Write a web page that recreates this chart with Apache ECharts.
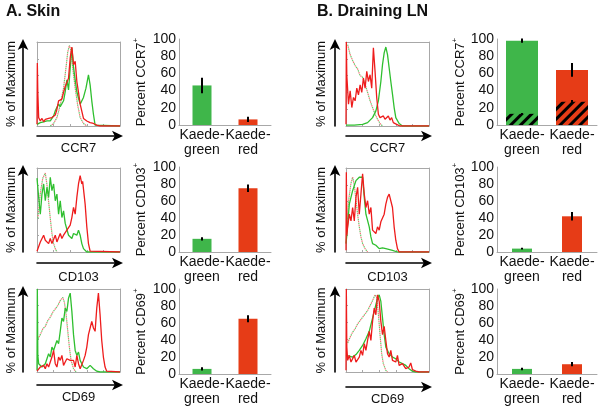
<!DOCTYPE html>
<html>
<head>
<meta charset="utf-8">
<script src="https://cdn.jsdelivr.net/npm/echarts@6/dist/echarts.min.js"></script>
<style>
html, body { margin: 0; padding: 0; background: #fff; }
#main { width: 600px; height: 407px; }
</style>
</head>
<body>
<div id="main"></div>
<script>
//柱状图数据
var barCats = ['Kaede-\ngreen', 'Kaede-\nred'];
var skinCCR7 = [46, 6.5];
var skinCCR7Err = [9, 3];
var skinCD103 = [15.5, 75];
var skinCD103Err = [2, 4.5];
var skinCD69 = [6, 65];
var skinCD69Err = [2, 4];
var lnCCR7 = [98, 64];
var lnCCR7Err = [2.5, 8];
var lnCCR7Hatch = [13, 27];
var lnCCR7HatchErr = [1, 2];
var lnCD103 = [4, 42];
var lnCD103Err = [1, 5];
var lnCD69 = [6, 11.5];
var lnCD69Err = [1.5, 2.5];

//直方图曲线 [荧光位置, % of Maximum]
var skinCCR7Red = [[0,2],[0.4,75],[1,40],[2,10],[4,6],[6,9],[8,5],[10,8],[12,6],[14,9],[16,7],[18,10],[20,12],[22,13],[24,20],[26,30],[28,28],[30,32],[32,40],[34,47],[36,48],[38,57],[40,81],[42,94],[44,73],[46,77],[48,53],[50,40],[52,26],[56,9],[60,6],[64,4],[68,3],[72,1],[76,0],[100,0]];
var skinCCR7Green = [[0,2],[4,4],[6,2],[8,5],[10,3],[12,6],[14,4],[16,6],[18,8],[20,12],[22,18],[26,26],[28,23],[30,22],[32,30],[34,41],[36,55],[38,43],[40,69],[42,93],[44,70],[46,55],[48,41],[50,33],[52,26],[54,27],[56,34],[59,45],[62,61],[64,49],[66,30],[68,14],[70,1],[72,0],[100,0]];
var skinCCR7Iso = [[16,0],[20,3],[24,10],[28,25],[32,45],[35,70],[37,88],[39,96],[41,90],[43,70],[46,45],[49,25],[52,10],[56,3],[60,0]];

var skinCD103Red = [[0,1],[4,12],[8,20],[10,14],[14,10],[16,16],[18,10],[22,20],[24,12],[28,22],[30,16],[32,20],[36,26],[40,32],[42,41],[44,53],[46,45],[48,65],[50,81],[52,91],[54,81],[55,84],[58,57],[60,30],[62,10],[64,1],[66,0],[100,0]];
var skinCD103Green = [[0,88],[2,65],[4,45],[6,69],[8,81],[10,61],[12,77],[14,65],[16,89],[18,73],[20,81],[22,61],[24,69],[26,45],[28,61],[30,41],[32,49],[34,34],[36,36],[38,20],[40,22],[42,16],[44,22],[46,24],[48,20],[50,26],[52,20],[54,10],[56,4],[60,0],[100,0]];
var skinCD103Iso = [[1,40],[4,70],[7,88],[10,94],[12,80],[14,60],[16,40],[18,22],[20,10],[22,4],[24,0]];

var skinCD69Red = [[0,1],[4,6],[8,8],[10,4],[12,10],[14,6],[16,8],[18,18],[20,26],[22,10],[24,6],[26,18],[28,14],[30,20],[32,8],[34,12],[36,16],[38,18],[40,14],[42,12],[44,14],[46,6],[48,20],[50,10],[52,4],[54,6],[56,14],[58,20],[60,30],[62,45],[64,53],[66,61],[68,53],[70,49],[72,77],[74,95],[76,69],[78,38],[80,18],[82,6],[84,1],[86,0],[100,0]];
var skinCD69Green = [[0,2],[0.4,100],[1,20],[2,10],[6,6],[10,10],[14,22],[16,18],[18,30],[20,26],[22,32],[24,38],[26,34],[28,49],[30,65],[32,61],[34,77],[36,73],[38,89],[40,95],[42,73],[44,45],[46,26],[48,20],[50,24],[52,14],[54,10],[56,6],[60,4],[64,8],[68,4],[72,1],[76,0],[100,0]];
var skinCD69Iso = [[1,40],[4,45],[7,52],[10,55],[13,62],[16,66],[19,72],[22,76],[25,80],[28,86],[31,90],[33,84],[35,70],[37,50],[39,30],[41,14],[44,4],[47,0]];

var lnCCR7Red = [[0,2],[0.4,100],[1,60],[3,26],[5,42],[7,22],[9,34],[11,30],[13,45],[15,37],[17,49],[19,40],[21,57],[23,45],[25,65],[27,53],[29,61],[31,45],[33,93],[35,65],[37,34],[39,14],[41,10],[43,9],[45,12],[47,8],[49,10],[51,12],[53,7],[55,10],[57,4],[61,2],[65,0],[100,0]];
var lnCCR7Green = [[0,1],[10,1],[20,2],[26,4],[32,10],[36,18],[39,30],[42,53],[44,73],[46,87],[48,94],[50,85],[52,69],[54,53],[56,38],[58,22],[60,10],[64,3],[68,0],[100,0]];
var lnCCR7Iso = [[2,97],[5,85],[8,78],[11,72],[14,68],[17,60],[20,58],[23,50],[26,40],[29,30],[32,22],[35,14],[38,8],[41,3],[44,0]];

var lnCD103Red = [[0,2],[0.4,95],[1,20],[2,30],[4,45],[6,37],[8,53],[10,37],[12,65],[14,77],[16,45],[18,69],[20,93],[22,69],[24,53],[26,61],[28,45],[30,53],[32,26],[36,22],[38,30],[40,26],[42,36],[44,34],[46,45],[48,57],[50,65],[52,69],[54,67],[56,53],[58,30],[60,14],[62,4],[64,0],[100,0]];
var lnCD103Green = [[0,10],[1,20],[4,57],[8,73],[12,85],[16,89],[18,91],[20,89],[22,65],[24,45],[28,30],[30,18],[32,10],[36,8],[40,4],[44,5],[48,4],[56,2],[62,0],[100,0]];
var lnCD103Iso = [[1,30],[3,60],[6,82],[8,89],[10,80],[12,62],[14,45],[16,30],[18,18],[20,10],[23,4],[26,0]];

var lnCD69Red = [[0,2],[0.4,100],[1,30],[2,14],[4,20],[6,12],[8,14],[10,20],[12,12],[14,14],[16,18],[18,26],[20,20],[22,34],[24,26],[26,38],[28,49],[30,38],[32,61],[34,77],[36,69],[38,93],[39,95],[40,85],[42,61],[44,45],[46,55],[48,38],[50,22],[52,18],[54,26],[56,14],[60,12],[62,20],[64,8],[68,10],[72,4],[76,6],[78,11],[80,3],[84,1],[88,0],[100,0]];
var lnCD69Green = [[0,20],[4,19],[8,18],[12,21],[16,26],[20,32],[24,40],[28,49],[32,65],[36,81],[38,89],[40,93],[42,85],[44,65],[46,45],[48,30],[52,22],[56,18],[60,16],[64,12],[68,10],[72,8],[76,4],[80,1],[84,0],[100,0]];
var lnCD69Iso = [[2,35],[5,42],[8,48],[11,52],[14,58],[17,62],[20,66],[23,70],[26,74],[29,80],[32,86],[35,93],[37,90],[39,70],[41,45],[43,22],[45,10],[48,2],[50,0]];

var FONT = 'Arial, "Liberation Sans", sans-serif';
var GREEN = '#3fb64a';
var RED = '#e63c17';
var H_GREEN = '#2fbf2f';
var H_RED = '#ee1c1c';
var BOX = '#a8a8a8';

var grids = [], xAxes = [], yAxes = [], series = [];

//直方图外框(灰线)
function frameAxis(g, pos, ticks) {
	return {
		gridIndex : g, type : 'value', min : 0, max : 100, position : pos, offset : 0,
		axisLine : { show : true, onZero : false, lineStyle : { color : BOX, width : 1 } },
		axisTick : { show : ticks, inside : true, length : 2, lineStyle : { color : BOX } },
		axisLabel : { show : false }, splitLine : { show : false }, silent : true
	};
}

//直方图
function addHist(box, name, red, green, iso, offX, offY, yGap, xGap) {
	var g = grids.length;
	grids.push({ left : box[0], top : box[1], width : box[2], height : box[3] });
	var xi = xAxes.length, yi = yAxes.length;
	var arrow = { show : true, onZero : false, symbol : ['none', 'arrow'], symbolSize : [8, 11], symbolOffset : [0, 3],
		lineStyle : { color : '#000', width : 1.6 } };
	xAxes.push({
		gridIndex : g, type : 'value', min : 0, max : 100, position : 'bottom', offset : offX,
		axisLine : arrow, axisTick : { show : false }, axisLabel : { show : false }, splitLine : { show : false },
		name : name, nameLocation : 'middle', nameGap : xGap,
		nameTextStyle : { fontFamily : FONT, fontSize : 13, color : '#111' }
	});
	xAxes.push(frameAxis(g, 'bottom', true));
	xAxes.push(frameAxis(g, 'top', false));
	yAxes.push({
		gridIndex : g, type : 'value', min : 0, max : 100, position : 'left', offset : offY,
		axisLine : arrow, axisTick : { show : false }, axisLabel : { show : false }, splitLine : { show : false },
		name : '% of Maximum', nameLocation : 'middle', nameGap : yGap,
		nameTextStyle : { fontFamily : FONT, fontSize : 13, color : '#111' }
	});
	yAxes.push(frameAxis(g, 'left', true));
	yAxes.push(frameAxis(g, 'right', false));
	function line(data, color, width, type, dashOffset) {
		series.push({
			type : 'line', xAxisIndex : xi, yAxisIndex : yi, data : data,
			showSymbol : false, symbol : 'none', silent : true,
			lineStyle : { color : color, width : width, type : type, dashOffset : dashOffset || 0 }
		});
	}
	line(iso, '#6cc86c', 1.2, [1.5, 2.5], 0);
	line(iso, '#f07878', 1.2, [1.5, 2.5], 2);
	line(green, H_GREEN, 1.3, 'solid');
	line(red, H_RED, 1.3, 'solid');
}

//柱状图
function addBar(box, name, vals, errs, hatch, hatchErr, barW, yGap) {
	var g = grids.length;
	grids.push({ left : box[0], top : box[1], width : box[2], height : box[3] });
	var xi = xAxes.length, yi = yAxes.length;
	xAxes.push({
		gridIndex : g, type : 'category', data : barCats,
		axisLine : { lineStyle : { color : BOX, width : 1 } },
		axisTick : { show : false },
		axisLabel : { interval : 0, fontFamily : FONT, fontSize : 14, lineHeight : 15, color : '#111', margin : 3 }
	});
	yAxes.push({
		gridIndex : g, type : 'value', min : 0, max : 100, interval : 20,
		axisLine : { show : true, lineStyle : { color : BOX, width : 1 } },
		axisTick : { show : false }, splitLine : { show : false },
		axisLabel : { fontFamily : FONT, fontSize : 14, color : '#111', margin : 3 },
		name : '{a|Percent ' + name + '}{s|+}', nameLocation : 'middle', nameGap : yGap,
		nameTextStyle : {
			rich : {
				a : { fontFamily : FONT, fontSize : 13, color : '#111', lineHeight : 16, verticalAlign : 'bottom' },
				s : { fontFamily : FONT, fontSize : 8, color : '#111', lineHeight : 16, verticalAlign : 'top' }
			}
		}
	});
	var colorFn = function(p) { return p.dataIndex == 0 ? GREEN : RED; };
	series.push({
		type : 'bar', xAxisIndex : xi, yAxisIndex : yi, data : vals, barWidth : barW,
		itemStyle : { color : colorFn }, silent : true
	});
	var errData = vals.map(function(v, i) { return [i, v - errs[i], v + errs[i]]; });
	if (hatch) {
		series.push({
			type : 'bar', xAxisIndex : xi, yAxisIndex : yi, data : hatch, barWidth : barW, barGap : '-100%',
			itemStyle : { color : colorFn,
				decal : { symbol : 'rect', color : '#000', dashArrayX : [1, 0], dashArrayY : [3, 4], rotation : -Math.PI / 4 } },
			silent : true
		});
		hatch.forEach(function(v, i) { errData.push([i, v - hatchErr[i], v + hatchErr[i]]); });
	}
	series.push({
		type : 'custom', xAxisIndex : xi, yAxisIndex : yi, data : errData, z : 10, silent : true,
		renderItem : function(params, api) {
			var lo = api.coord([api.value(0), api.value(1)]);
			var hi = api.coord([api.value(0), api.value(2)]);
			return { type : 'line', shape : { x1 : lo[0], y1 : lo[1], x2 : hi[0], y2 : hi[1] },
				style : { stroke : '#000', lineWidth : 2 } };
		}
	});
}

//A. Skin
addHist([37, 42, 83, 84], 'CCR7', skinCCR7Red, skinCCR7Green, skinCCR7Iso, 10, 14, 5, 6);
addHist([37, 168, 83, 84], 'CD103', skinCD103Red, skinCD103Green, skinCD103Iso, 11, 14, 5, 8);
addHist([37, 289, 83, 83], 'CD69', skinCD69Red, skinCD69Green, skinCD69Iso, 13, 14, 5, 6);
addBar([179, 39, 92, 86], 'CCR7', skinCCR7, skinCCR7Err, null, null, 19, 31);
addBar([179, 167, 92, 85], 'CD103', skinCD103, skinCD103Err, null, null, 19, 31);
addBar([179, 289, 92, 86], 'CD69', skinCD69, skinCD69Err, null, null, 19, 31);

//B. Draining LN
addHist([346, 42, 83, 84], 'CCR7', lnCCR7Red, lnCCR7Green, lnCCR7Iso, 10, 11, 7, 6);
addHist([346, 168, 83, 84], 'CD103', lnCD103Red, lnCD103Green, lnCD103Iso, 11, 11, 7, 8);
addHist([346, 289, 83, 83], 'CD69', lnCD69Red, lnCD69Green, lnCD69Iso, 15, 11, 7, 6);
addBar([497, 39, 100, 86], 'CCR7', lnCCR7, lnCCR7Err, lnCCR7Hatch, lnCCR7HatchErr, 32, 28);
addBar([497, 167, 100, 85], 'CD103', lnCD103, lnCD103Err, null, null, 20, 28);
addBar([497, 289, 100, 86], 'CD69', lnCD69, lnCD69Err, null, null, 20, 28);

var chart = echarts.init(document.getElementById('main'));
chart.setOption({
	animation : false,
	backgroundColor : '#fff',
	title : [
		{ text : 'A. Skin', left : 6, top : 4, padding : 0,
			textStyle : { fontFamily : FONT, fontSize : 16, fontWeight : 'bold', color : '#111' } },
		{ text : 'B. Draining LN', left : 317, top : 4, padding : 0,
			textStyle : { fontFamily : FONT, fontSize : 16, fontWeight : 'bold', color : '#111' } }
	],
	grid : grids,
	xAxis : xAxes,
	yAxis : yAxes,
	series : series
});
</script>
</body>
</html>
